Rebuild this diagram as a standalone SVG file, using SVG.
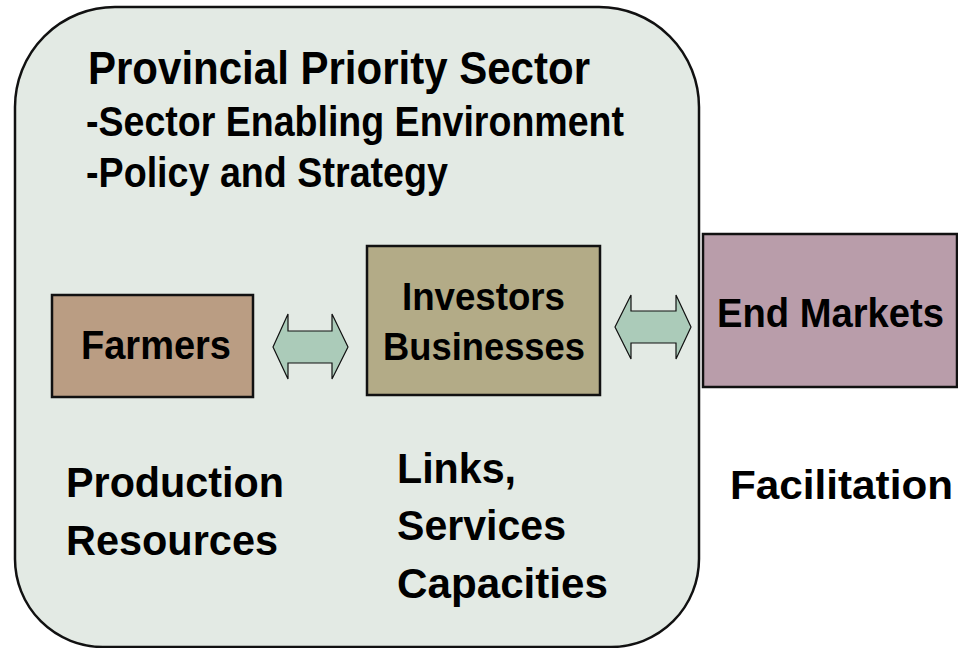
<svg xmlns="http://www.w3.org/2000/svg" width="958" height="648" viewBox="0 0 958 648">
<style>
  text { font-family: "Liberation Sans", Arial, sans-serif; font-weight: bold; fill: #000; }
  .box { stroke: #111; stroke-width: 2.5; }
  .arrow { fill: #ABCBB9; stroke: #111; stroke-width: 1.2; stroke-linejoin: miter; }
</style>
<rect x="0" y="0" width="958" height="648" fill="#ffffff"/>
<g id="sector">
  <path d="M115,7 H599 A100,100 0 0 1 699,107 V559 A88,88 0 0 1 611,647 H103 A88,88 0 0 1 15,559 V107 A100,100 0 0 1 115,7 Z" fill="#E3EAE4" stroke="#111" stroke-width="2.5"/>
  <text x="88" y="84" font-size="46" textLength="502" lengthAdjust="spacingAndGlyphs">Provincial Priority Sector</text>
  <text x="86" y="136" font-size="42" textLength="538" lengthAdjust="spacingAndGlyphs">-Sector Enabling Environment</text>
  <text x="86" y="187" font-size="42" textLength="362" lengthAdjust="spacingAndGlyphs">-Policy and Strategy</text>
</g>
<g id="farmers">
  <rect class="box" x="52" y="295" width="201" height="102" fill="#BA9D83"/>
  <text x="81" y="359" font-size="41" textLength="150" lengthAdjust="spacingAndGlyphs">Farmers</text>
</g>
<g id="investors">
  <rect class="box" x="367" y="246" width="233" height="149" fill="#B3AB87"/>
  <text x="402" y="310" font-size="39" textLength="163" lengthAdjust="spacingAndGlyphs">Investors</text>
  <text x="383" y="360" font-size="39" textLength="202" lengthAdjust="spacingAndGlyphs">Businesses</text>
</g>
<g id="endmarkets">
  <rect class="box" x="703" y="234" width="254" height="153" fill="#B99DAA"/>
  <text x="717" y="327" font-size="41" textLength="227" lengthAdjust="spacingAndGlyphs">End Markets</text>
</g>
<g id="production">
  <text x="66" y="497" font-size="43" textLength="218" lengthAdjust="spacingAndGlyphs">Production</text>
  <text x="66" y="555" font-size="43" textLength="212" lengthAdjust="spacingAndGlyphs">Resources</text>
</g>
<g id="links">
  <text x="397" y="483" font-size="43" textLength="119" lengthAdjust="spacingAndGlyphs">Links,</text>
  <text x="397" y="540" font-size="43" textLength="169" lengthAdjust="spacingAndGlyphs">Services</text>
  <text x="397" y="598" font-size="43" textLength="211" lengthAdjust="spacingAndGlyphs">Capacities</text>
</g>
<g id="facilitation">
  <text x="730" y="499" font-size="41" textLength="223" lengthAdjust="spacingAndGlyphs">Facilitation</text>
</g>
<g id="connectors">
  <polygon class="arrow" points="273,347 288,314 288,331 332,331 332,314 348,347 332,379 332,363 288,363 288,379"/>
  <polygon class="arrow" points="615,327 631,295 631,311 676,311 676,295 691,327 676,359 676,343 631,343 631,359"/>
</g>
</svg>
